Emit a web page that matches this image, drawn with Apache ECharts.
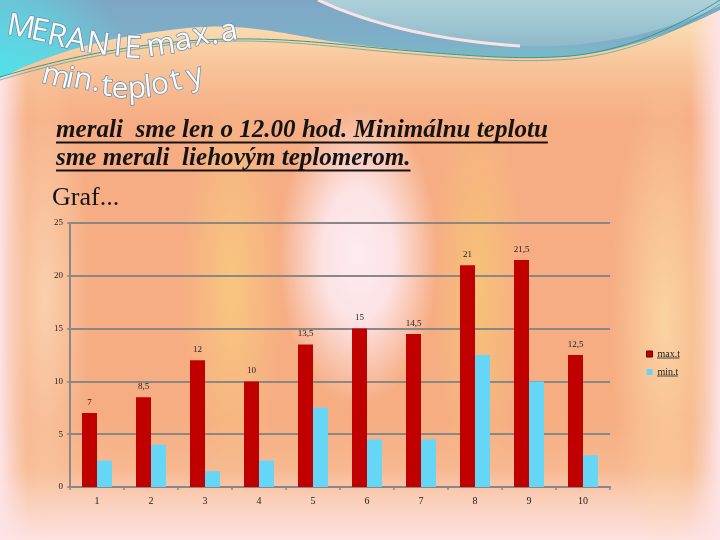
<!DOCTYPE html>
<html>
<head>
<meta charset="utf-8">
<script src="https://cdn.jsdelivr.net/npm/echarts@6/dist/echarts.min.js"></script>
<style>
html,body{margin:0;padding:0;width:720px;height:540px;overflow:hidden;}
#bg{position:absolute;left:0;top:0;width:720px;height:540px;
background:
 radial-gradient(ellipse 80px 150px at 358px 255px, rgba(253,236,240,1) 0%, rgba(253,232,238,0.9) 45%, rgba(253,232,238,0) 100%),
 radial-gradient(ellipse 50px 200px at 232px 290px, rgba(248,198,128,1) 0%, rgba(248,198,128,0) 100%),
 radial-gradient(ellipse 45px 200px at 478px 285px, rgba(247,194,120,1) 0%, rgba(247,194,120,0) 100%),
 radial-gradient(ellipse 55px 240px at 665px 320px, rgba(251,214,165,0.95) 0%, rgba(251,214,165,0) 100%),
 radial-gradient(ellipse 45px 240px at 45px 300px, rgba(251,212,178,0.9) 0%, rgba(251,212,178,0) 100%),
 linear-gradient(to right, rgba(253,227,230,1) 0px, rgba(253,227,230,0) 28px, rgba(253,227,230,0) 690px, rgba(253,227,230,1) 720px),
 linear-gradient(to bottom, rgba(253,226,226,0) 470px, rgba(253,226,226,1) 540px),
 linear-gradient(to bottom, #fbd9ae 30px, #f8c298 70px, #f6ad84 120px, #f6ad82 420px, #f8c09a 500px);
}
#chart{position:absolute;left:0;top:0;width:720px;height:540px;}
</style>
</head>
<body>
<div id="bg"></div>
<div id="chart"></div>
<script>
// ---- data ----
const days = ['1', '2', '3', '4', '5', '6', '7', '8', '9', '10'];
const maxT = [7, 8.5, 12, 10, 13.5, 15, 14.5, 21, 21.5, 12.5];
const minT = [2.5, 4, 1.5, 2.5, 7.5, 4.5, 4.5, 12.5, 10, 3];
const seriesNames = ['max.t', 'min.t'];
const yMin = 0, yMax = 25, yStep = 5;
const titleLine1 = 'MERANIE max.a';
const titleLine2 = 'min.teploty';
const noteLines = ['merali  sme len o 12.00 hod. Minimálnu teplotu', 'sme merali  liehovým teplomerom.'];
const heading = 'Graf...';

// ---- layout (styling only) ----
const title1Layout = [[21,38,-10],[40,42,-11],[57,47,-12],[76,51,-11],[98,55,-8],[118,57,-5],[133,59,-3],
  [161,56,8],[183,51,11],[201,46,11],[214,45,11],[229,42,10]];
const title2Layout = [[56,87,-14],[70,89,-12],[83,90,-10],[96,92,-6],[107,97,-4],[120,99,0],[137,99,3],
  [148,98,6],[160,95,10],[176,91,14],[195,86,16]];

const mctx = document.createElement('canvas').getContext('2d');
function textW(font, s) { mctx.font = font; return mctx.measureText(s).width; }

// sample a simple path (M, L, C, Z; absolute) into points
function samplePath(d) {
  const tok = d.match(/[MLCZ]|-?\d*\.?\d+/g);
  const pts = []; let i = 0, cmd = null, cx = 0, cy = 0;
  while (i < tok.length) {
    if (/[MLCZ]/.test(tok[i])) { cmd = tok[i++]; if (cmd === 'Z') continue; }
    if (cmd === 'M' || cmd === 'L') { cx = +tok[i++]; cy = +tok[i++]; pts.push([cx, cy]); }
    else if (cmd === 'C') {
      const x1 = +tok[i++], y1 = +tok[i++], x2 = +tok[i++], y2 = +tok[i++], x3 = +tok[i++], y3 = +tok[i++];
      for (let s = 1; s <= 24; s++) {
        const t = s / 24, u = 1 - t;
        pts.push([u*u*u*cx + 3*u*u*t*x1 + 3*u*t*t*x2 + t*t*t*x3, u*u*u*cy + 3*u*u*t*y1 + 3*u*t*t*y2 + t*t*t*y3]);
      }
      cx = x3; cy = y3;
    } else i++;
  }
  return pts;
}

const serif = '"Liberation Serif", "DejaVu Serif", serif';
const noteSize = 20 * 492 / textW('italic bold 20px ' + serif, noteLines[0]);
const noteFont = 'italic bold ' + noteSize.toFixed(2) + 'px ' + serif;

const graphic = [];
// top blue wave
const waveD = 'M0,78 C40,58 100,35 200,27 C260,24 300,38 350,44 C420,52 500,60 560,57 C620,54 680,30 720,10 L720,0 L0,0 Z';
const wavePts = samplePath(waveD);
graphic.push({type:'polygon', z:-10, shape:{points: wavePts}, style:{fill:{type:'linear',x:0,y:0,x2:0,y2:1,colorStops:[
  {offset:0,color:'#7ea6c5'},{offset:0.55,color:'#7eb0c8'},{offset:1,color:'#6ccbc8'}]}}});
graphic.push({type:'polygon', z:-9, shape:{points: wavePts}, style:{fill:{type:'radial',x:0,y:80,r:130,global:true,colorStops:[
  {offset:0,color:'rgba(80,226,234,1)'},{offset:0.5,color:'rgba(90,220,230,0.7)'},{offset:1,color:'rgba(90,220,230,0)'}]}}});
// bulge
graphic.push({type:'polygon', z:-8, shape:{points: samplePath('M318,0 C365,22 430,40 520,46 C600,49 670,30 720,6 L720,0 Z')},
  style:{fill:{type:'linear',x:0,y:0,x2:0,y2:1,colorStops:[{offset:0,color:'#aed0da'},{offset:1,color:'#8fbac9'}]}}});
graphic.push({type:'polyline', z:-7, shape:{points: samplePath('M318,0 C365,22 430,40 520,46')}, style:{fill:null, stroke:'#f8e4e6', lineWidth:3}});
// thin teal lines
graphic.push({type:'polyline', z:-6, shape:{points: samplePath('M0,77 C50,62 120,45 200,40 C280,36 330,44 400,50 C470,56 520,60 570,56 C630,50 680,25 720,0')}, style:{fill:null, stroke:'#2f9c94', lineWidth:1}});
graphic.push({type:'polyline', z:-6, shape:{points: samplePath('M0,80 C50,65 120,48 200,42 C280,38 330,47 400,53 C470,59 520,63 572,59 C632,53 684,28 720,4')}, style:{fill:null, stroke:'rgba(47,156,148,0.6)', lineWidth:1}});

// wordart title
function addWord(str, layout, size) {
  let k = 0;
  for (const ch of str) {
    if (ch === ' ') continue;
    const L = layout[k++];
    graphic.push({type:'text', z:100, x:L[0], y:L[1] - size*0.33, rotation: L[2]*Math.PI/180,
      style:{text:ch, x:0, y:0, font: size + 'px "Open Sans", "DejaVu Sans", sans-serif',
        fill:'#f6fafc', stroke:'#6b88a3', lineWidth:1.4,
        textAlign:'center', textVerticalAlign:'middle'}});
  }
}
addWord(titleLine1, title1Layout, 31);
addWord(titleLine2, title2Layout, 30);

// note lines (underlined)
const noteBase = [139, 167];
noteLines.forEach((s, i) => {
  graphic.push({type:'text', z:100, x:56, y:noteBase[i] - noteSize*0.33,
    style:{text:s, x:0, y:0, font: noteFont, fill:'#141414', textAlign:'left', textVerticalAlign:'middle'}});
  const w = textW(noteFont, s);
  graphic.push({type:'line', z:100, shape:{x1:56, y1:noteBase[i]+3.5, x2:56+w, y2:noteBase[i]+3.5}, style:{stroke:'#141414', lineWidth:2}});
});
graphic.push({type:'text', z:100, x:52, y:207 - 26*0.33,
  style:{text:heading, x:0, y:0, font:'26px ' + serif, fill:'#141414', textAlign:'left', textVerticalAlign:'middle'}});

// legend underlines
[358, 376].forEach((yy, i) => {
  const w = textW('10px ' + serif, seriesNames[i]);
  graphic.push({type:'line', z:100, shape:{x1:657, y1:yy, x2:657+w, y2:yy}, style:{stroke:'#222', lineWidth:0.8}});
});

const chart = echarts.init(document.getElementById('chart'), null, {renderer:'canvas'});
chart.setOption({
  animation: false,
  backgroundColor: 'transparent',
  textStyle: {fontFamily: serif},
  grid: {left:70, right:110, top:223, bottom:53, containLabel:false},
  legend: {orient:'vertical', left:646, top:348, icon:'rect', itemWidth:6, itemHeight:6, itemGap:6, padding:0,
    textStyle:{fontSize:10, lineHeight:12, color:'#222', fontFamily: serif},
    data:[{name:seriesNames[0], itemStyle:{borderColor:'#5a0000', borderWidth:1}}, seriesNames[1]]},
  xAxis: {type:'category', data: days,
    axisLine:{lineStyle:{color:'#8a8886', width:2}},
    axisTick:{show:true, length:3, lineStyle:{color:'#8a8886', width:1.5}},
    axisLabel:{color:'#222', fontSize:10, margin:9}},
  yAxis: {type:'value', min:yMin, max:yMax, interval:yStep,
    axisLine:{show:true, lineStyle:{color:'#8a8886', width:2}},
    axisTick:{show:true, length:3, lineStyle:{color:'#8a8886', width:1.5}},
    axisLabel:{color:'#222', fontSize:9, margin:7},
    splitLine:{lineStyle:{color:'#8a8886', width:2}}},
  series: [
    {name: seriesNames[0], type:'bar', data: maxT, barWidth:15, barGap:'0%',
      itemStyle:{color:'#c00000'},
      label:{show:true, position:'top', distance:6, fontSize:9, color:'#222',
        formatter: p => String(p.value).replace('.', ',')}},
    {name: seriesNames[1], type:'bar', data: minT, barWidth:15, barGap:'0%',
      itemStyle:{color:'#66d6f6'}}
  ],
  graphic: graphic
});
</script>
</body>
</html>
